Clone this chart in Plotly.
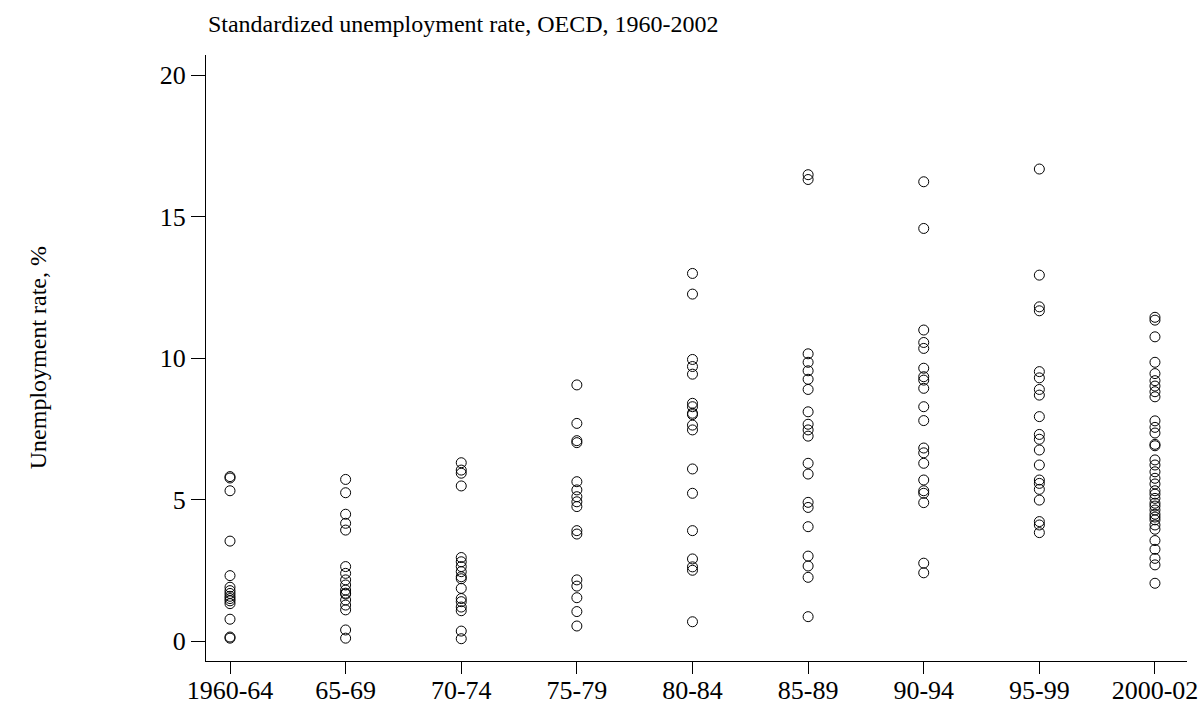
import plotly.graph_objects as go

# Five-year periods on the horizontal axis
periods = ["1960-64", "65-69", "70-74", "75-79", "80-84",
           "85-89", "90-94", "95-99", "2000-02"]

# Country unemployment rates (%) within each period
rates_1960_64 = [5.81, 5.76, 5.31, 3.53, 2.31, 1.90, 1.78, 1.68, 1.58, 1.50,
                 1.42, 1.32, 0.77, 0.14, 0.10]
rates_65_69 = [5.71, 5.24, 4.48, 4.16, 3.92, 2.63, 2.39, 2.16, 1.98, 1.80,
               1.69, 1.66, 1.45, 1.27, 1.10, 0.39, 0.10]
rates_70_74 = [6.30, 6.04, 5.93, 5.48, 2.95, 2.80, 2.63, 2.45, 2.27, 2.20,
               1.86, 1.50, 1.39, 1.20, 1.07, 0.35, 0.08]
rates_75_79 = [9.05, 7.69, 7.08, 7.01, 5.63, 5.34, 5.10, 4.92, 4.75, 3.90,
               3.78, 2.16, 1.94, 1.53, 1.04, 0.53]
rates_80_84 = [12.99, 12.26, 9.95, 9.70, 9.43, 8.40, 8.28, 8.05, 8.00, 7.63,
               7.46, 6.08, 5.22, 3.90, 2.90, 2.62, 2.50, 0.68]
rates_85_89 = [16.48, 16.31, 10.15, 9.85, 9.55, 9.25, 8.89, 8.10, 7.66, 7.46,
               7.24, 6.28, 5.90, 4.90, 4.72, 4.04, 3.00, 2.65, 2.25, 0.86]
rates_90_94 = [16.23, 14.58, 10.99, 10.55, 10.34, 9.64, 9.34, 9.22, 8.93,
               8.28, 7.79, 6.82, 6.65, 6.28, 5.69, 5.31, 5.22, 4.89, 2.75,
               2.41]
rates_95_99 = [16.68, 12.93, 11.81, 11.67, 9.52, 9.30, 8.89, 8.69, 7.93,
               7.30, 7.13, 6.75, 6.22, 5.69, 5.57, 5.36, 4.98, 4.22, 4.10,
               3.83]
rates_2000_02 = [11.44, 11.34, 10.75, 9.85, 9.45, 9.20, 9.01, 8.81, 8.63,
                 7.78, 7.55, 7.35, 6.95, 6.90, 6.40, 6.22, 5.98, 5.75, 5.55,
                 5.31, 5.19, 5.04, 4.87, 4.77, 4.63, 4.48, 4.38, 4.28, 4.10,
                 3.95, 3.55, 3.24, 2.92, 2.69, 2.04]

all_rates = [rates_1960_64, rates_65_69, rates_70_74, rates_75_79, rates_80_84,
             rates_85_89, rates_90_94, rates_95_99, rates_2000_02]

xs, ys = [], []
for period, vals in zip(periods, all_rates):
    xs.extend([period] * len(vals))
    ys.extend(vals)

font_family = "Liberation Serif, Times New Roman, serif"

fig = go.Figure(
    go.Scatter(
        x=xs, y=ys, mode="markers",
        marker=dict(symbol="circle-open", size=10, color="black",
                    line=dict(width=1, color="black")),
        hoverinfo="x+y",
    )
)

fig.update_layout(
    width=1202, height=706,
    margin=dict(l=206, r=15, t=55, b=45, autoexpand=False),
    paper_bgcolor="white", plot_bgcolor="white",
    font=dict(family=font_family, size=22, color="black"),
    showlegend=False,
    title=dict(text="Standardized unemployment rate, OECD, 1960-2002",
               font=dict(family=font_family, size=24, color="black"),
               xref="paper", x=0.002, xanchor="left",
               yref="container", y=0.966, yanchor="middle"),
)

fig.update_xaxes(
    type="category", categoryorder="array", categoryarray=periods,
    range=[-0.2076, 8.277], automargin=False,
    showline=True, linecolor="black", linewidth=1,
    ticks="outside", ticklen=12, tickwidth=1, tickcolor="black",
    ticklabelstandoff=-6,
    showgrid=False, zeroline=False,
    tickfont=dict(family=font_family, size=26, color="black"),
)

fig.update_yaxes(
    range=[-0.707, 20.71], automargin=False,
    tickvals=[0, 5, 10, 15, 20],
    showline=True, linecolor="black", linewidth=1,
    ticks="outside", ticklen=14, tickwidth=1, tickcolor="black",
    showgrid=False, zeroline=False,
    tickfont=dict(family=font_family, size=26, color="black"),
)

fig.add_annotation(
    text="Unemployment rate, %", textangle=-90,
    xref="paper", yref="paper", x=-0.171, y=0.5,
    xanchor="center", yanchor="middle", showarrow=False,
    font=dict(family=font_family, size=24, color="black"),
)

fig.write_html("out.html")
